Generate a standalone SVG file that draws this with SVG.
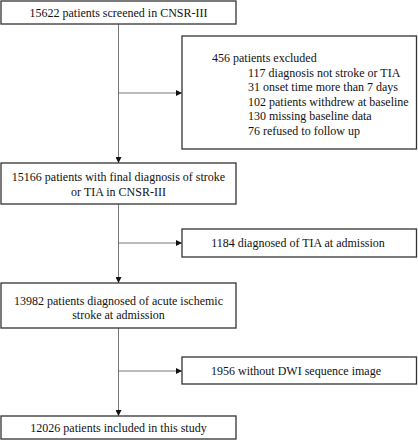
<svg xmlns="http://www.w3.org/2000/svg" width="418" height="440" viewBox="0 0 418 440">
<style>
.box{fill:#fff;stroke:#333;stroke-width:1.3}
.c{stroke:#777;stroke-width:1;fill:none}
text{font-family:"Liberation Serif","Times New Roman",serif;font-size:12px;fill:#111}
.m{text-anchor:middle}
</style>
<defs>
<marker id="ah" viewBox="0 0 10 10" refX="10" refY="5" markerWidth="6" markerHeight="6" markerUnits="userSpaceOnUse" orient="auto">
<path d="M0,0 L10,5 L0,10 Z" fill="#111"/>
</marker>
</defs>
<rect width="418" height="440" fill="#fff"/>
<g id="connectors">
<line class="c" x1="118.5" y1="24" x2="118.5" y2="163" marker-end="url(#ah)"/>
<line class="c" x1="118.5" y1="93" x2="182" y2="93" marker-end="url(#ah)"/>
<line class="c" x1="118.5" y1="204" x2="118.5" y2="283" marker-end="url(#ah)"/>
<line class="c" x1="118.5" y1="243" x2="182" y2="243" marker-end="url(#ah)"/>
<line class="c" x1="118.5" y1="328" x2="118.5" y2="416" marker-end="url(#ah)"/>
<line class="c" x1="118.5" y1="371" x2="182" y2="371" marker-end="url(#ah)"/>
</g>
<g id="screened">
<rect class="box" x="1" y="1" width="235" height="23"/>
<text class="m" x="118.5" y="17">15622  patients screened  in CNSR-III</text>
</g>
<g id="excluded">
<rect class="box" x="182" y="36" width="234.5" height="113"/>
<text x="212" y="62">456 patients excluded</text>
<text x="248" y="76.5">117 diagnosis not stroke or TIA</text>
<text x="248" y="91">31 onset time more than 7 days</text>
<text x="248" y="105.5">102 patients withdrew at baseline</text>
<text x="248" y="120">130 missing baseline data</text>
<text x="248" y="134.5">76 refused to follow up</text>
</g>
<g id="final">
<rect class="box" x="1" y="163" width="235" height="41"/>
<text class="m" x="118.5" y="180.5">15166 patients with final diagnosis of stroke</text>
<text class="m" x="118.5" y="195.5">or TIA in CNSR-III</text>
</g>
<g id="tia">
<rect class="box" x="182" y="229" width="234.5" height="28"/>
<text class="m" x="298" y="247">1184 diagnosed of TIA at admission</text>
</g>
<g id="ischemic">
<rect class="box" x="1" y="283" width="235" height="45"/>
<text class="m" x="118.5" y="304.5">13982 patients diagnosed of acute ischemic</text>
<text class="m" x="118.5" y="319">stroke at admission</text>
</g>
<g id="nodwi">
<rect class="box" x="182" y="357" width="234.5" height="27"/>
<text class="m" x="296" y="375">1956 without DWI sequence image</text>
</g>
<g id="included">
<rect class="box" x="1" y="416" width="235" height="23"/>
<text class="m" x="118.5" y="432">12026 patients included  in this study</text>
</g>
</svg>
